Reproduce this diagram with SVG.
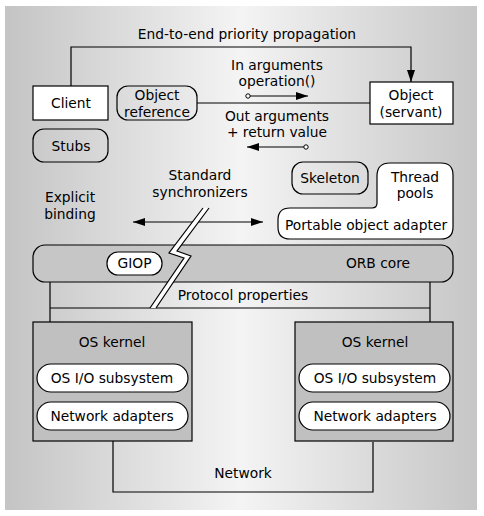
<svg xmlns="http://www.w3.org/2000/svg" width="484" height="516" viewBox="0 0 484 516">
<defs>
<linearGradient id="bg" x1="0" y1="0" x2="1" y2="0">
<stop offset="0" stop-color="#c4c4c4"/>
<stop offset="0.5" stop-color="#f4f4f4"/>
<stop offset="1" stop-color="#c6c6c6"/>
</linearGradient>
<marker id="arr" viewBox="0 0 12 8" refX="12" refY="4" markerWidth="12" markerHeight="8" markerUnits="userSpaceOnUse" orient="auto-start-reverse">
<path d="M0,0 L12,4 L0,8 Z" fill="#000"/>
</marker>
<marker id="dot" viewBox="0 0 6 6" refX="3" refY="3" markerWidth="6" markerHeight="6" markerUnits="userSpaceOnUse">
<circle cx="3" cy="3" r="2.2" fill="#fff" stroke="#000" stroke-width="1"/>
</marker>
</defs>
<style>
text{font-family:"DejaVu Sans","Open Sans",sans-serif;font-size:13.8px;fill:#000;text-anchor:middle}
.box{stroke:#000;stroke-width:1.2}
.w{fill:#fff}
.n{fill:none}
.g{fill:#c6c6c6}
.k{fill:#c0c0c0}
.ln{fill:none;stroke:#000;stroke-width:1.2}
</style>
<rect x="0" y="0" width="484" height="516" fill="#fff"/>
<rect x="5" y="6" width="472" height="504" fill="url(#bg)"/>

<g id="connectors">
<path class="ln" d="M71,86 V47 H411 V82" marker-end="url(#arr)"/>
<path class="ln" d="M197,103 H370"/>
<path class="ln" d="M248,96 H308" marker-start="url(#dot)" marker-end="url(#arr)"/>
<path class="ln" d="M306,147 H247" marker-start="url(#dot)" marker-end="url(#arr)"/>
<path class="ln" d="M133,222 H263" marker-start="url(#arr)" marker-end="url(#arr)"/>
<path class="ln" d="M50,268 V343" marker-start="url(#arr)" marker-end="url(#arr)"/>
<path class="ln" d="M430,268 V343" marker-start="url(#arr)" marker-end="url(#arr)"/>
<path class="ln" d="M50,308 H430"/>
<path class="ln" d="M113,441 V492 H373 V442"/>
</g>

<g id="label-e2e"><text x="247" y="39">End-to-end priority propagation</text></g>
<g id="label-in"><text x="277" y="69.8">In arguments</text><text x="277" y="86.3">operation()</text></g>
<g id="label-out"><text x="277" y="120.8">Out arguments</text><text x="277" y="137.3">+ return value</text></g>
<g id="label-std"><text x="200" y="180">Standard</text><text x="200" y="196.5">synchronizers</text></g>
<g id="label-explicit"><text x="70" y="202">Explicit</text><text x="70" y="218.5">binding</text></g>

<g id="client"><rect class="box w" x="33" y="86" width="75" height="34"/><text x="71" y="108">Client</text></g>
<g id="objref"><rect class="box n" x="117" y="86" width="80" height="34" rx="11"/><text x="157" y="100">Object</text><text x="157" y="116.5">reference</text></g>
<g id="servant"><rect class="box w" x="370" y="82" width="83" height="42"/><text x="411" y="100">Object</text><text x="411" y="116.5">(servant)</text></g>
<g id="stubs"><rect class="box n" x="33" y="129" width="75" height="33" rx="11"/><text x="71" y="151">Stubs</text></g>
<g id="skeleton"><rect class="box n" x="292" y="162" width="76" height="32" rx="11"/><text x="330" y="183">Skeleton</text></g>
<g id="poa"><path class="box w" d="M390,163 H441 Q453,163 453,175 V227 Q453,239 441,239 H290 Q278,239 278,227 V220 Q278,208 290,208 H372 Q377,208 377,203 V176 Q377,163 390,163 Z"/>
<text x="415" y="181.5">Thread</text><text x="415" y="198">pools</text><text x="366" y="230">Portable object adapter</text></g>

<g id="orb"><rect class="box g" x="33" y="245" width="420" height="37" rx="12"/><text x="378" y="268">ORB core</text></g>
<g id="giop"><rect class="box w" x="107" y="252" width="55" height="23" rx="11"/><text x="134.5" y="268">GIOP</text></g>

<g id="break">
<polygon points="203,208 209,208 177,251 191,256 156,308 150,308 184,258 169,253" fill="#fff"/>
<polyline class="ln" points="203,208 169,253 184,258 150,308"/>
<polyline class="ln" points="209,208 177,251 191,256 156,308"/>
</g>
<g id="label-proto"><text x="243" y="300">Protocol properties</text></g>

<g id="kernel-left"><rect class="box k" x="33" y="322" width="159" height="119"/><text x="112" y="347">OS kernel</text>
<rect class="box w" x="37" y="364" width="151" height="28" rx="14"/><text x="112" y="383">OS I/O subsystem</text>
<rect class="box w" x="37" y="402" width="151" height="28" rx="14"/><text x="112" y="421">Network adapters</text></g>
<g id="kernel-right"><rect class="box k" x="295" y="322" width="158" height="119"/><text x="375" y="347">OS kernel</text>
<rect class="box w" x="299" y="364" width="151" height="28" rx="14"/><text x="375" y="383">OS I/O subsystem</text>
<rect class="box w" x="299" y="402" width="151" height="28" rx="14"/><text x="375" y="421">Network adapters</text></g>
<g id="network"><text x="243" y="478">Network</text></g>
</svg>
